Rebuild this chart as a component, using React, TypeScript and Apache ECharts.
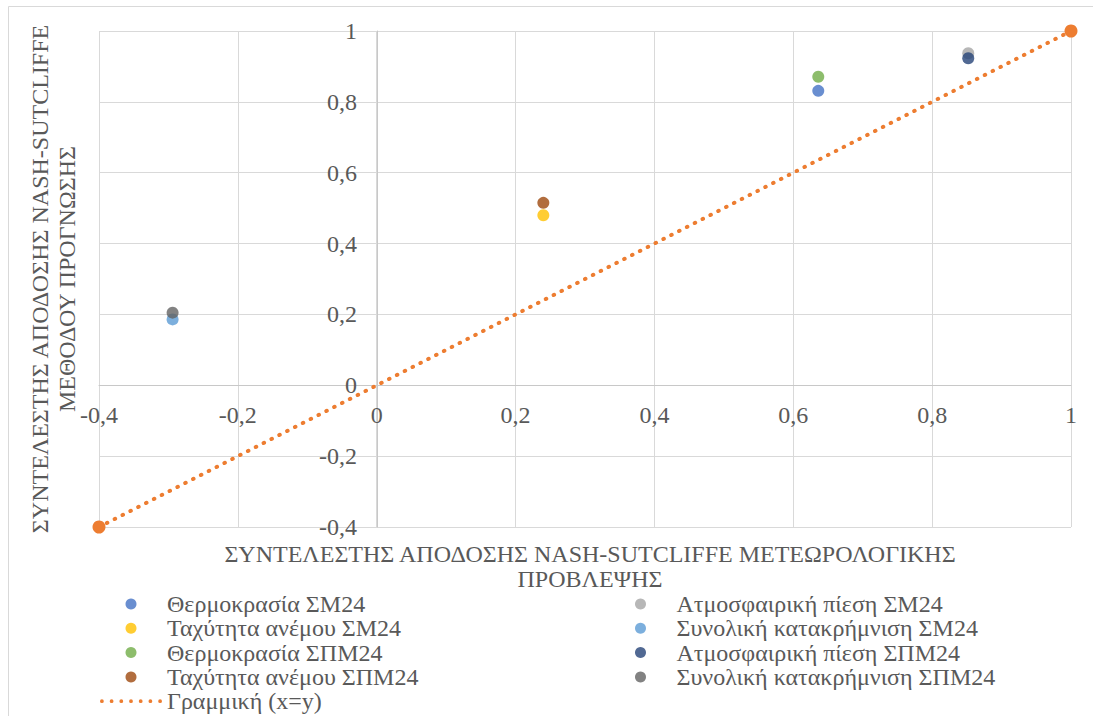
import React, { useEffect, useRef } from "react";
import * as echarts from "echarts";

// ---- Data ----
const seriesNames = [
  "Θερμοκρασία ΣΜ24",
  "Ταχύτητα ανέμου ΣΜ24",
  "Θερμοκρασία ΣΠΜ24",
  "Ταχύτητα ανέμου ΣΠΜ24",
  "Ατμοσφαιρική πίεση ΣΜ24",
  "Συνολική κατακρήμνιση ΣΜ24",
  "Ατμοσφαιρική πίεση ΣΠΜ24",
  "Συνολική κατακρήμνιση ΣΠΜ24",
];
// x = Nash-Sutcliffe of the meteorological forecast, y = Nash-Sutcliffe of the forecast method
const xValues = [0.636, 0.24, 0.636, 0.24, 0.852, -0.294, 0.852, -0.294];
const yValues = [0.831, 0.48, 0.871, 0.515, 0.937, 0.186, 0.923, 0.205];
const seriesColors = [
  "#4472C4",
  "#FFC000",
  "#70AD47",
  "#9E480E",
  "#A5A5A5",
  "#5B9BD5",
  "#264478",
  "#636363",
];
const lineName = "Γραμμική (x=y)";
const lineX = [-0.4, 1];
const lineY = [-0.4, 1];
const lineColor = "#ED7D31";

const xAxisTitle = "ΣΥΝΤΕΛΕΣΤΗΣ ΑΠΟΔΟΣΗΣ NASH-SUTCLIFFE ΜΕΤΕΩΡΟΛΟΓΙΚΗΣ\nΠΡΟΒΛΕΨΗΣ";
const yAxisTitle = "ΣΥΝΤΕΛΕΣΤΗΣ ΑΠΟΔΟΣΗΣ NASH-SUTCLIFFE\nΜΕΘΟΔΟΥ ΠΡΟΓΝΩΣΗΣ";

const FONT = "Liberation Serif";
const FS = 24;
const TEXT_COLOR = "#595959";

function dottedIcon(): string {
  let d = "";
  for (let i = 0; i < 7; i++) {
    const cx = 2 + i * 10.2;
    d += `M${cx - 2},2a2,2 0 1,0 4,0a2,2 0 1,0 -4,0Z`;
  }
  return "path://" + d;
}

const fmt = (v: number) => String(+v.toFixed(1)).replace(".", ",");

export default function App() {
  const ref = useRef<HTMLDivElement>(null);

  useEffect(() => {
    if (!ref.current) return;
    const chart = echarts.init(ref.current, null, { renderer: "svg" });

    const scatterSeries = seriesNames.map((name, i) => ({
      name,
      type: "scatter",
      data: [[xValues[i], yValues[i]]],
      symbol: "circle",
      symbolSize: 12,
      itemStyle: { color: seriesColors[i] },
      z: 3,
    }));

    const lineSeries = {
      name: lineName,
      type: "line",
      data: lineX.map((x, i) => [x, lineY[i]]),
      symbol: "circle",
      symbolSize: 13,
      showSymbol: true,
      itemStyle: { color: lineColor },
      lineStyle: { color: lineColor, width: 4, type: [0.5, 8.3], cap: "round" },
      z: 2,
    };

    const legendText = {
      fontFamily: FONT,
      fontSize: FS,
      color: TEXT_COLOR,
      lineHeight: 23,
    };

    const legendCommon = {
      orient: "vertical",
      top: 592,
      height: 124,
      padding: 0,
      itemWidth: 62,
      itemHeight: 11,
      itemGap: 0.3,
      itemTextGap: 12,
      textStyle: legendText,
      selectedMode: false,
    };

    chart.setOption({
      animation: false,
      grid: { left: 99, right: 22, top: 31, bottom: 189, containLabel: false },
      xAxis: {
        type: "value",
        min: -0.4,
        max: 1,
        interval: 0.2,
        position: "bottom",
        offset: -142,
        axisLine: { show: true, onZero: false, lineStyle: { color: "#C8C8C8", width: 1 } },
        axisTick: { show: false },
        splitLine: { show: true, lineStyle: { color: "#D9D9D9", width: 1 } },
        axisLabel: {
          formatter: fmt,
          fontFamily: FONT,
          fontSize: FS,
          color: TEXT_COLOR,
          margin: 18,
        },
      },
      yAxis: {
        type: "value",
        min: -0.4,
        max: 1,
        interval: 0.2,
        position: "left",
        offset: -278,
        axisLine: { show: true, onZero: false, lineStyle: { color: "#C8C8C8", width: 1 } },
        axisTick: { show: false },
        splitLine: { show: true, lineStyle: { color: "#D9D9D9", width: 1 } },
        axisLabel: {
          formatter: fmt,
          fontFamily: FONT,
          fontSize: FS,
          color: TEXT_COLOR,
          margin: 20,
        },
      },
      legend: [
        {
          ...legendCommon,
          left: 100,
          width: 420,
          data: [
            { name: seriesNames[0], icon: "circle" },
            { name: seriesNames[1], icon: "circle" },
            { name: seriesNames[2], icon: "circle" },
            { name: seriesNames[3], icon: "circle" },
            { name: lineName, icon: dottedIcon() },
          ],
        },
        {
          ...legendCommon,
          left: 635,
          width: 450,
          data: [
            { name: seriesNames[4], icon: "circle" },
            { name: seriesNames[5], icon: "circle" },
            { name: seriesNames[6], icon: "circle" },
            { name: seriesNames[7], icon: "circle" },
          ],
        },
      ],
      graphic: [
        {
          type: "rect",
          silent: true,
          shape: { x: 8.5, y: 6.5, width: 1100, height: 730 },
          style: { fill: "none", stroke: "#D9D9D9", lineWidth: 1 },
          z: -10,
        },
        {
          type: "text",
          x: 590,
          y: 566,
          style: {
            text: xAxisTitle,
            fontFamily: FONT,
            fontSize: FS,
            lineHeight: 25,
            fill: TEXT_COLOR,
            align: "center",
            verticalAlign: "middle",
          },
        },
        {
          type: "text",
          x: 53,
          y: 279,
          rotation: Math.PI / 2,
          style: {
            text: yAxisTitle,
            fontFamily: FONT,
            fontSize: FS,
            lineHeight: 27,
            fill: TEXT_COLOR,
            align: "center",
            verticalAlign: "middle",
          },
        },
      ],
      series: [lineSeries, ...scatterSeries],
    });

    return () => chart.dispose();
  }, []);

  return (
    <div
      ref={ref}
      style={{ position: "fixed", left: 0, top: 0, width: 1093, height: 716, background: "#fff" }}
    />
  );
}
